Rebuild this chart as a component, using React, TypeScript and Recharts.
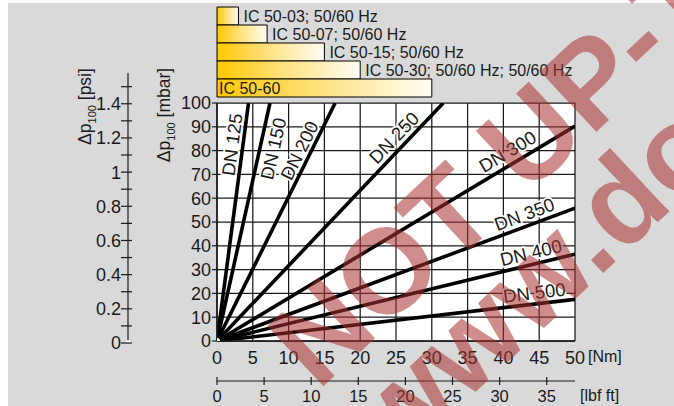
import React from 'react';
import {
  ComposedChart, LineChart, BarChart, Line, Bar, XAxis, YAxis,
  CartesianGrid, LabelList,
} from 'recharts';

const W = 674;
const H = 406;
const FONT = '"Liberation Sans", Arial, Helvetica, sans-serif';
const INK = '#1a1a1a';
const BG = '#d9d9d9';

// axes
const nmTicks = [0, 5, 10, 15, 20, 25, 30, 35, 40, 45, 50];
const mbarTicks = [0, 10, 20, 30, 40, 50, 60, 70, 80, 90, 100];
const lbfTicks = [0, 5, 10, 15, 20, 25, 30, 35];
const psiTicks = [0, 0.1, 0.2, 0.3, 0.4, 0.5, 0.6, 0.7, 0.8, 0.9, 1, 1.1, 1.2, 1.3, 1.4, 1.5];

// DN lines: straight from the origin, end point
const dnNames = ['DN 125', 'DN 150', 'DN 200', 'DN 250', 'DN 300', 'DN 350', 'DN 400', 'DN 500'];
const dnEndNm = [4.4, 7.4, 16.5, 31.6, 50, 50, 50, 50];
const dnEndMbar = [100, 100, 100, 100, 90.3, 55.8, 36.5, 17.5];

// IC actuator torque ranges (Nm)
const icNames = ['IC 50-03', 'IC 50-07', 'IC 50-15', 'IC 50-30', 'IC 50-60'];
const icLabels = ['IC 50-03; 50/60 Hz', 'IC 50-07; 50/60 Hz', 'IC 50-15; 50/60 Hz', 'IC 50-30; 50/60 Hz; 50/60 Hz', 'IC 50-60'];
const icMaxNm = [3, 7, 15, 20, 30];

// layout of the main plot (pixels)
const PLOT = { left: 217, top: 103, right: 575, bottom: 341 };
const Y_W = 60;
const NM_H = 40;
const LBF_H = 25;

// where each DN label sits: fraction along its line, offset across it (+ = above)
const dnLabelAt = [0.82, 0.82, 0.78, 0.82, 0.83, 0.87, 0.885, 0.89];
const dnLabelOff = [11, -13, 11, 12, 13, 12, 12, 11.5];

const icRows = icNames.map((name, i) => ({ name, label: icLabels[i], max: icMaxNm[i] }));

function renderDnLabel(p: any, i: number) {
  if (p.index !== 1) return null;
  const ex = Number(p.x), ey = Number(p.y);
  const ox = PLOT.left, oy = PLOT.bottom;
  const dx = ex - ox, dy = ey - oy;
  const len = Math.hypot(dx, dy);
  const nx = dy / len, ny = -dx / len;
  const cx = ox + dnLabelAt[i] * dx + dnLabelOff[i] * nx;
  const cy = oy + dnLabelAt[i] * dy + dnLabelOff[i] * ny;
  const ang = (Math.atan2(dy, dx) * 180) / Math.PI;
  return (
    <text
      x={cx} y={cy} dy="0.36em" textAnchor="middle"
      transform={`rotate(${ang} ${cx} ${cy})`}
      fontFamily={FONT} fontSize={18.5} fill={INK}
      stroke="#fff" strokeWidth={3.5} strokeLinejoin="round" paintOrder="stroke"
    >
      {dnNames[i]}
    </text>
  );
}

function renderIcLabel(p: any) {
  const x = Number(p.x), y = Number(p.y), w = Number(p.width), h = Number(p.height);
  const inside = p.index === icRows.length - 1;
  return (
    <text
      x={inside ? x + 2 : x + w + 5} y={y + h / 2} dy="0.36em"
      fontFamily={FONT} fontSize={16} fill={INK}
    >
      {p.value}
    </text>
  );
}

const LbfTick = (p: any) => {
  const { x, y, payload } = p;
  return (
    <g>
      <line x1={x} x2={x} y1={y - 4} y2={y + 4} stroke={INK} strokeWidth={1.2} />
      <text x={x} y={y + 9} dy="0.71em" textAnchor="middle" fontFamily={FONT} fontSize={16.5} fill={INK}>
        {payload.value}
      </text>
    </g>
  );
};

const PsiTick = (p: any) => {
  const { x, y, payload } = p;
  const v = Number(payload.value);
  const major = Math.round(v * 10) % 2 === 0;
  return (
    <g>
      <line x1={x - 7} x2={x + 4} y1={y} y2={y} stroke={INK} strokeWidth={1.2} />
      {major && (
        <text x={x - 7} y={y} dy="0.36em" textAnchor="end" fontFamily={FONT} fontSize={18} fill={INK}>
          {Number(v.toFixed(1)).toString()}
        </text>
      )}
    </g>
  );
};

function axisTitle(cx: number, cy: number, unit: string) {
  return (
    <text
      x={cx} y={cy} textAnchor="middle" transform={`rotate(-90 ${cx} ${cy})`}
      fontFamily={FONT} fontSize={17.5} fill={INK}
    >
      <tspan dy="0.36em">Δp</tspan>
      <tspan fontSize={11} dy={5}>100</tspan>
      <tspan dy={-5}>{` ${unit}`}</tspan>
    </text>
  );
}

function unitLabel(p: any, text: string, dx: number, dy: number) {
  const vb = p.viewBox || {};
  return (
    <text
      x={vb.x + vb.width + dx} y={vb.y + dy} dy="0.71em"
      fontFamily={FONT} fontSize={16} fill={INK}
    >
      {text}
    </text>
  );
}

function MainChart() {
  return (
    <ComposedChart
      width={W} height={H}
      margin={{ top: PLOT.top, right: W - PLOT.right, left: PLOT.left - Y_W, bottom: H - PLOT.bottom - NM_H - LBF_H }}
    >
      <CartesianGrid fill="#fff" fillOpacity={1} stroke={INK} strokeWidth={1.25} />
      <XAxis
        type="number" dataKey="nm" domain={[0, 50]} ticks={nmTicks} interval={0}
        height={NM_H} tickSize={0} tickMargin={10} tickLine={false}
        axisLine={{ stroke: INK, strokeWidth: 1.5 }}
        tick={{ fill: INK, fontSize: 18, fontFamily: FONT }}
        allowDataOverflow
        label={{ content: (p: any) => unitLabel(p, '[Nm]', 13, 10) }}
      />
      <XAxis
        xAxisId="lbf" type="number" dataKey="lbf" domain={[0, 38]} ticks={lbfTicks} interval={0}
        height={LBF_H} tickSize={0} tickMargin={0} tickLine={false}
        axisLine={{ stroke: INK, strokeWidth: 1.2 }}
        tick={<LbfTick />}
        allowDataOverflow
        label={{ content: (p: any) => unitLabel(p, '[lbf ft]', 5, 9) }}
      />
      <YAxis
        type="number" domain={[0, 100]} ticks={mbarTicks} interval={0}
        width={Y_W} tickSize={5} tickMargin={1}
        tickLine={{ stroke: INK, strokeWidth: 1.2 }}
        axisLine={{ stroke: INK, strokeWidth: 1.5 }}
        tick={{ fill: INK, fontSize: 18, fontFamily: FONT }}
        allowDataOverflow
        label={{ content: (p: any) => axisTitle((p.viewBox?.x ?? 157) + 6.5, 115, '[mbar]') }}
      />
      {dnNames.map((name, i) => (
        <Line
          key={name}
          data={[{ nm: 0, mbar: 0 }, { nm: dnEndNm[i], mbar: dnEndMbar[i] }]}
          dataKey="mbar" stroke="#000" strokeWidth={3.6} dot={false}
          isAnimationActive={false}
        >
          <LabelList dataKey="mbar" content={(p: any) => renderDnLabel(p, i)} />
        </Line>
      ))}
      {/* invisible series so the lbf ft axis gets its ticks */}
      <Line
        xAxisId="lbf" data={[{ lbf: 0, mbar: 0 }]} dataKey="mbar"
        stroke="none" dot={false} isAnimationActive={false}
      />
    </ComposedChart>
  );
}

function PsiAxisChart() {
  const top = 73, bottom = 343, axisX = 128;
  return (
    <LineChart
      width={W} height={H} data={[{ x: 0, psi: 0 }]}
      margin={{ top, bottom: H - bottom, left: axisX - Y_W, right: W - axisX - 10 }}
    >
      <XAxis hide type="number" dataKey="x" domain={[0, 1]} />
      <YAxis
        type="number" domain={[0, 1.58]} ticks={psiTicks} interval={0}
        width={Y_W} tickSize={0} tickMargin={0} tickLine={false}
        axisLine={{ stroke: INK, strokeWidth: 1.2 }}
        tick={<PsiTick />}
        allowDataOverflow
        label={{ content: () => axisTitle(84.5, 106.5, '[psi]') }}
      />
      <Line dataKey="psi" stroke="none" dot={false} isAnimationActive={false} />
    </LineChart>
  );
}

function IcChart() {
  return (
    <BarChart
      layout="vertical" width={W} height={100} data={icRows}
      margin={{ top: 7, bottom: 3, left: PLOT.left, right: W - PLOT.right }}
      barCategoryGap={0}
    >
      <defs>
        <linearGradient id="icFill" x1="0" y1="0" x2="1" y2="0">
          <stop offset="0" stopColor="#ffc800" />
          <stop offset="0.45" stopColor="#ffe07a" />
          <stop offset="1" stopColor="#fffef6" />
        </linearGradient>
      </defs>
      <XAxis type="number" hide domain={[0, 50]} />
      <YAxis type="category" dataKey="name" hide />
      <Bar dataKey="max" fill="url(#icFill)" stroke="#000" strokeWidth={1} isAnimationActive={false}>
        <LabelList dataKey="label" content={renderIcLabel} />
      </Bar>
    </BarChart>
  );
}

function Watermark() {
  const sx = 317.4, sy = 391.8;
  return (
    <svg width={W} height={H} style={{ position: 'absolute', left: 0, top: 0, pointerEvents: 'none' }}>
      <g transform={`rotate(-43 ${sx} ${sy})`} fontFamily={FONT} fontWeight="bold" fontSize={120}
        fill="rgb(168,48,48)" fillOpacity={0.55}>
        <text x={sx} y={sy}>NOT UP-TO-DATE</text>
        <text x={sx + 6.5} y={sy + 108}>www.docuthek.com</text>
      </g>
    </svg>
  );
}

export default function App() {
  const layer: React.CSSProperties = { position: 'absolute', left: 0, top: 0 };
  return (
    <div style={{ position: 'absolute', left: 0, top: 0, width: W, height: H, background: '#fff', overflow: 'hidden' }}>
      <div style={{ position: 'absolute', left: 8, top: 3, right: 0, bottom: 0, background: BG }} />
      <div style={layer}><MainChart /></div>
      <div style={layer}><PsiAxisChart /></div>
      <div style={layer}><IcChart /></div>
      <Watermark />
    </div>
  );
}
